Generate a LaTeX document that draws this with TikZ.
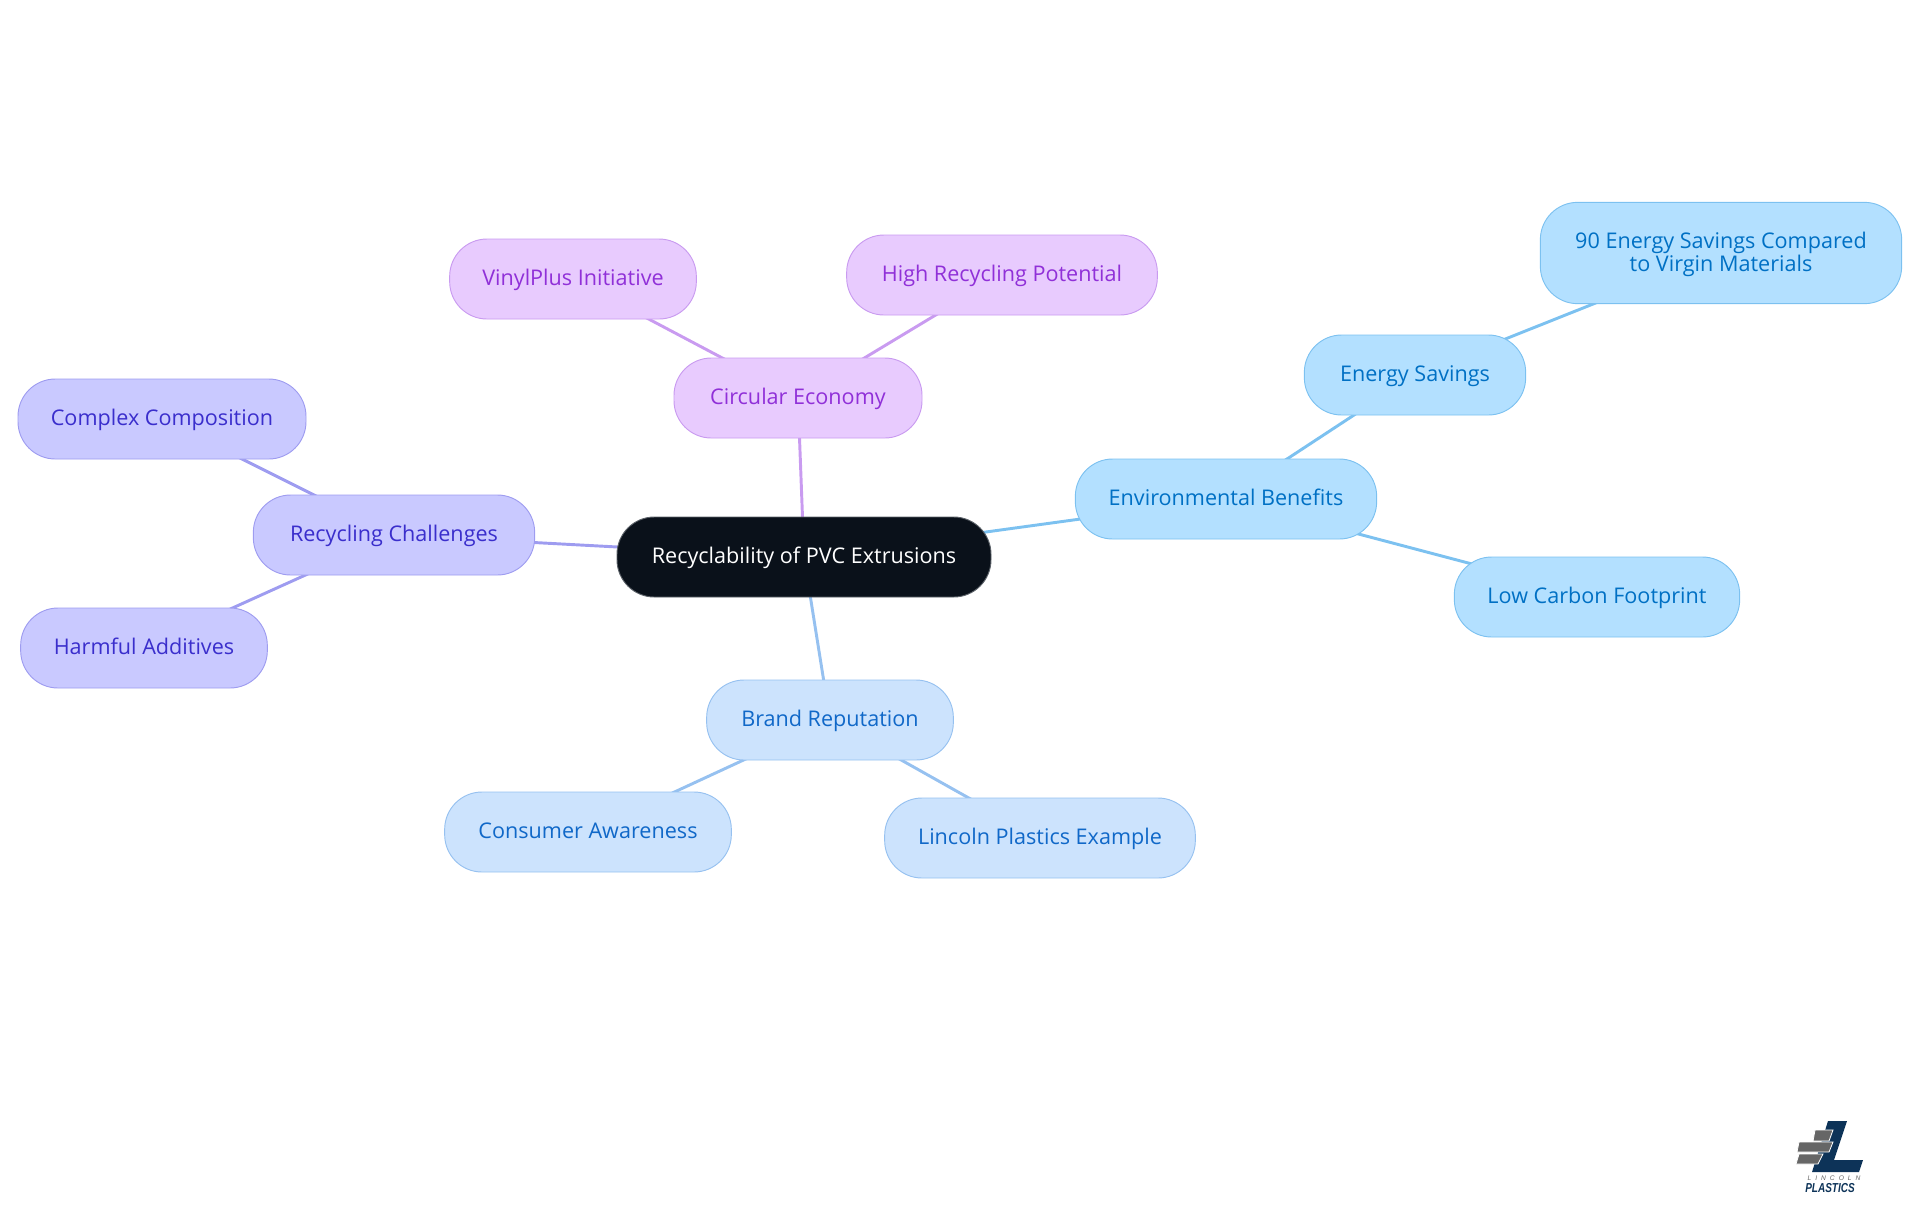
\documentclass[tikz,border=0pt]{standalone}
\usepackage{fontspec}
\setmainfont{Open Sans}
\newfontfamily\logofont{Liberation Sans}
\newfontfamily\logospaced[LetterSpace=60]{Liberation Sans}
\usetikzlibrary{backgrounds}
\definecolor{rootfill}{HTML}{0A111A}
\definecolor{rootline}{HTML}{5C6269}
\definecolor{envfill}{HTML}{B3E0FF}
\definecolor{envline}{HTML}{7CC1F0}
\definecolor{envtext}{HTML}{0070C4}
\definecolor{brandfill}{HTML}{CCE3FD}
\definecolor{brandline}{HTML}{96C1F0}
\definecolor{brandtext}{HTML}{1068C8}
\definecolor{circfill}{HTML}{E8CBFE}
\definecolor{circline}{HTML}{C99BF0}
\definecolor{circtext}{HTML}{9030D8}
\definecolor{recfill}{HTML}{C9C9FF}
\definecolor{recline}{HTML}{9E9CF0}
\definecolor{rectext}{HTML}{3A2ECC}
\definecolor{logoblue}{HTML}{0D3358}
\definecolor{logogrey}{HTML}{666666}
\tikzset{
  mapnode/.style={rounded corners=28pt,line width=0.7pt,inner sep=0pt,
    minimum height=60pt,align=center,text height=12.3pt,text depth=2pt,
    font=\fontsize{16.2}{17}\selectfont},
  rootnode/.style={mapnode,fill=rootfill,draw=rootline,text=white},
  envnode/.style={mapnode,fill=envfill,draw=envline,text=envtext},
  brandnode/.style={mapnode,fill=brandfill,draw=brandline,text=brandtext},
  circnode/.style={mapnode,fill=circfill,draw=circline,text=circtext},
  recnode/.style={mapnode,fill=recfill,draw=recline,text=rectext},
  envedge/.style={draw=envline,line width=2.2pt},
  brandedge/.style={draw=brandline,line width=2.2pt},
  circedge/.style={draw=circline,line width=2.2pt},
  recedge/.style={draw=recline,line width=2.2pt},
  brick/.style={fill=logogrey,draw=white,line width=0.6pt},
}
\begin{document}
\begin{tikzpicture}[x=0.75pt,y=-0.75pt]
    \useasboundingbox (0,0) rectangle (1920,1215);
    \node [rootnode,minimum width=280.5pt] (R0_0) at (804,557) {Recyclability of PVC Extrusions};
    \node [circnode,minimum width=186pt] (C1_0) at (798,398) {Circular Economy};
    \node [circnode,minimum width=185pt] (C2_0) at (573,279) {VinylPlus Initiative};
    \node [circnode,minimum width=233pt] (C2_1) at (1002,275) {High Recycling Potential};
    \node [envnode,minimum width=226pt] (E1_0) at (1226,499) {Environmental Benefits};
    \node [envnode,minimum width=166pt] (E2_0) at (1415,375) {Energy Savings};
    \node [envnode,minimum width=214pt] (E2_1) at (1597,597) {Low Carbon Footprint};
    \node [envnode,minimum width=271pt,minimum height=76pt,text height=,text depth=] (E3_0) at (1721,253) {\rule{0pt}{14pt}90 Energy Savings Compared\\to Virgin Materials};
    \node [brandnode,minimum width=185pt] (B1_0) at (830,720) {Brand Reputation};
    \node [brandnode,minimum width=215pt] (B2_0) at (588,832) {Consumer Awareness};
    \node [brandnode,minimum width=233pt] (B2_1) at (1040,838) {Lincoln Plastics Example};
    \node [recnode,minimum width=211pt] (P1_0) at (394,535) {Recycling Challenges};
    \node [recnode,minimum width=216pt] (P2_0) at (162,419) {Complex Composition};
    \node [recnode,minimum width=185pt] (P2_1) at (144,648) {Harmful Additives};
    \begin{pgfonlayer}{background}
      \path (R0_0.center) edge [circedge] (C1_0.center);
      \path (C1_0.center) edge [circedge] (C2_0.center);
      \path (C1_0.center) edge [circedge] (C2_1.center);
      \path (R0_0.center) edge [envedge] (E1_0.center);
      \path (E1_0.center) edge [envedge] (E2_0.center);
      \path (E1_0.center) edge [envedge] (E2_1.center);
      \path (E2_0.center) edge [envedge] (E3_0.center);
      \path (R0_0.center) edge [brandedge] (B1_0.center);
      \path (B1_0.center) edge [brandedge] (B2_0.center);
      \path (B1_0.center) edge [brandedge] (B2_1.center);
      \path (R0_0.center) edge [recedge] (P1_0.center);
      \path (P1_0.center) edge [recedge] (P2_0.center);
      \path (P1_0.center) edge [recedge] (P2_1.center);
    \end{pgfonlayer}
    \fill [logoblue] (1828,1121) -- (1847,1121) -- (1834,1160) -- (1863,1160) -- (1859,1172) -- (1812,1172) -- cycle;
    \path [brick] (1815,1130) -- (1833,1130) -- (1829,1141) -- (1813,1141) -- cycle;
    \path [brick] (1799,1142) -- (1833,1142) -- (1829,1152) -- (1797,1152) -- cycle;
    \path [brick] (1799,1154) -- (1823,1154) -- (1818,1164) -- (1796,1164) -- cycle;
    \node [inner sep=0pt,text=logogrey,font=\logospaced\itshape\fontsize{5}{5}\selectfont] (L0_0) at (1834,1178) {LINCOLN};
    \node [inner sep=0pt,text=logoblue,font=\logofont\bfseries\itshape\fontsize{7.5}{8}\selectfont] (L0_1) at (1830,1188) {\scalebox{1}[1.3]{PLASTICS}};
  \end{tikzpicture}
\end{document}
